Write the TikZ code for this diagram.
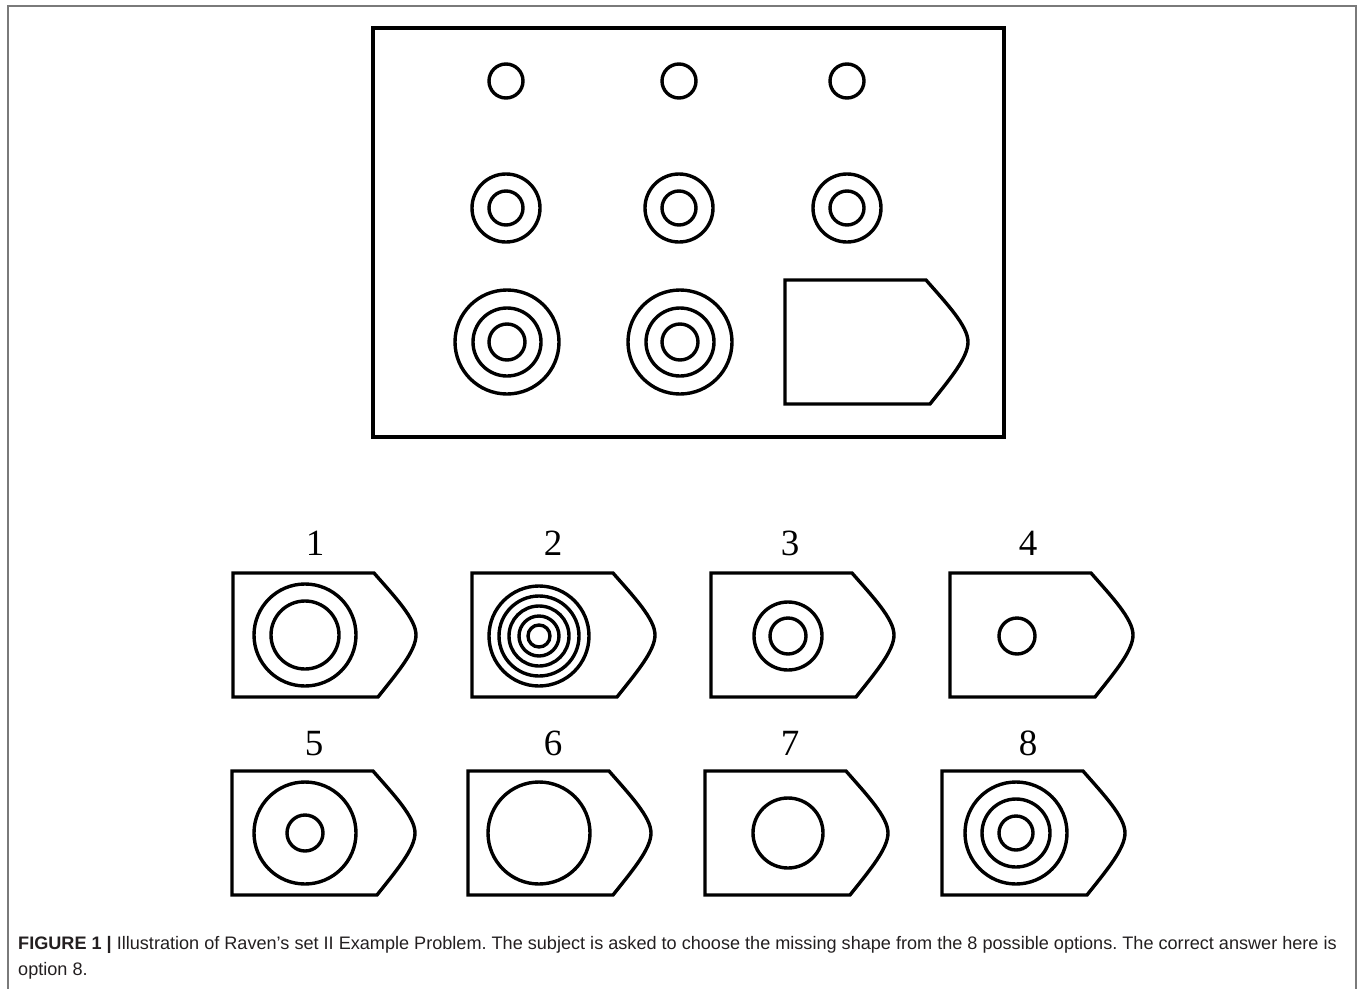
\documentclass[tikz,border=0pt]{standalone}
\usepackage{fontspec}
\setmainfont{Liberation Serif}
\newfontfamily\capfont{Liberation Sans}
\definecolor{FrameGray}{HTML}{7A7A7A}
\definecolor{CapInk}{HTML}{231F20}
\frenchspacing

\begin{document}
\begin{tikzpicture}[x=1pt,y=-1pt]
    \tikzset{
      figline/.style={line width=3.4pt},
      tagcard/.pic={\draw[figline] (0,0) -- (141,0) .. controls (162,24) and (183,46) .. (183,62) .. controls (183,78) and (164,100) .. (145,124) -- (0,124) -- cycle;},
      optnum/.style={anchor=base,inner sep=0pt,font=\fontsize{37}{37}\selectfont},
      captext/.style={anchor=north west,align=left,inner sep=0pt,text=CapInk,font=\capfont\fontsize{18.1}{26}\selectfont}
    }
    \useasboundingbox (0,0) rectangle (1360,988);
    \draw[FrameGray,line width=1.2pt] (8,992) -- (8,6) -- (1356,6) -- (1356,992);
    \draw[line width=3.6pt] (373,28) rectangle (1004,437);
    \foreach \cx in {506,679,847}
      \draw[figline] (\cx,81) circle[radius=17pt];
    \foreach \cx in {506,679,847}
      \foreach \r in {34,17}
        \draw[figline] (\cx,208) circle[radius=\r*1pt];
    \foreach \cx in {507,680}
      \foreach \r in {52,34,18}
        \draw[figline] (\cx,342) circle[radius=\r*1pt];
    \pic at (785,280) {tagcard};
    \foreach \tx/\ty in {233/573,472/573,711/573,950/573,232/771,468/771,705/771,942/771}
      \pic at (\tx,\ty) {tagcard};
    \foreach \cx/\cy/\rs in {305/635/{51,34},539/636/{50,40,30,20,11},788/636/{34,18},1017/636/{18},305/833/{51,18},539/833/{51},788/833/{35},1016/833/{51,34,17}}
      \foreach \r in \rs
        \draw[figline] (\cx,\cy) circle[radius=\r*1pt];
    \foreach \n/\nx/\ny in {1/315/555,2/553/555,3/790/555,4/1028/555,5/314/755,6/553/755,7/790/755,8/1028/755}
      \node[optnum] (num\n) at (\nx,\ny) {\n};
    \node[captext] (caption) at (18,936) {\textbf{FIGURE 1 |} Illustration of Raven’s set II Example Problem. The subject is asked to choose the missing shape from the 8 possible options. The correct answer here is\\option 8.};
  \end{tikzpicture}
\end{document}
